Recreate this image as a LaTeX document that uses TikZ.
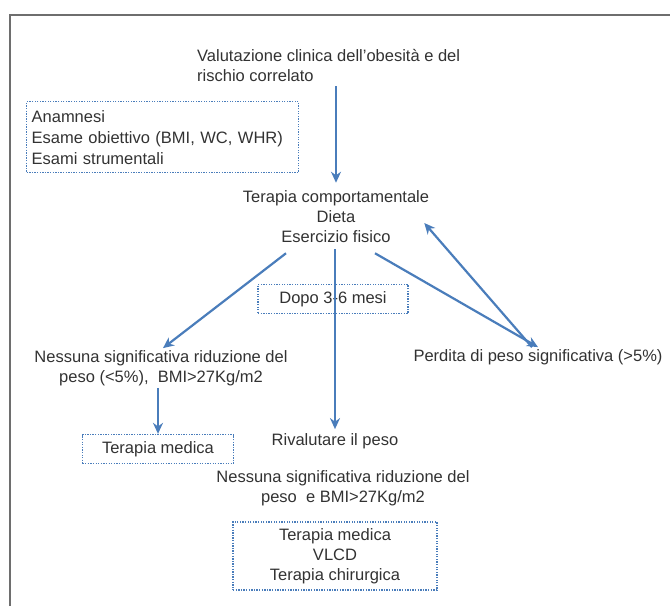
\documentclass[tikz,border=0pt]{standalone}
\usepackage{fontspec}
\setmainfont{Liberation Sans}
\usetikzlibrary{arrows.meta}
\definecolor{flowblue}{RGB}{74,125,187}
\definecolor{textgrey}{RGB}{50,50,50}
\definecolor{framegrey}{RGB}{110,110,110}
\tikzset{
    label/.style={text=textgrey, font=\fontsize{16.5}{20}\selectfont, align=center, inner sep=2pt},
    dotbox/.style={label, draw=flowblue, line width=1.3pt, dash pattern=on 1.3pt off 1.3pt},
    flow/.style={draw=flowblue, line width=2.2pt, ->}
}

\begin{document}
\begin{tikzpicture}[x=1pt, y=-1pt, >={Stealth[length=11pt,width=10pt]}]
        \useasboundingbox (0,0) rectangle (670,606);

        % Outer frame (only top and left are visible)
        \draw[framegrey, line width=2pt] (10,606) -- (10,15) -- (670,15);

        % --- Assessment ---
        \node[label, align=left, anchor=west] (valut) at (195,66)
            {Valutazione clinica dell'obesità e del\\rischio correlato};
        \node[dotbox, align=left, anchor=north west, text width=262pt, inner sep=5pt, minimum height=71pt,
              font=\fontsize{16.5}{21}\selectfont] (anam) at (26,101)
            {Anamnesi\\Esame obiettivo (BMI, WC, WHR)\\Esami strumentali};

        % --- Behavioural therapy ---
        \node[label] (terapia) at (336,217) {Terapia comportamentale\\Dieta\\Esercizio fisico};
        \node[dotbox, minimum width=150pt, minimum height=29pt] (dopo) at (333,299) {Dopo 3-6 mesi};

        % --- Outcomes after 3-6 months ---
        \node[label] (noloss) at (161,368) {Nessuna significativa riduzione del\\peso (<5\%),~ BMI>27Kg/m2};
        \node[label] (loss) at (538,357) {Perdita di peso significativa (>5\%)};
        \node[dotbox, minimum width=151pt, minimum height=29pt] (medica) at (158,449) {Terapia medica};
        \node[label] (rival) at (335,441) {Rivalutare il peso};
        \node[label] (again) at (343,488) {Nessuna significativa riduzione del\\peso~ e BMI>27Kg/m2};
        \node[dotbox, minimum width=204pt, minimum height=68pt] (advanced) at (335,556)
            {Terapia medica\\VLCD\\Terapia chirurgica};

        % Arrows
        \draw[flow] ([yshift=-2pt]valut.south -| terapia.north) -- ([yshift=6pt]terapia.north);
        \draw[flow] ([shift={(-50pt,-8pt)}]terapia.south) -- ([xshift=2pt]noloss.north);
        \draw[flow] ([shift={(39pt,-8pt)}]terapia.south) -- (loss.north);
        \draw[flow] ([xshift=-6pt]loss.north) -- ([shift={(-7pt,-6pt)}]terapia.east);
        \draw[flow] ([yshift=-4pt]terapia.south -| rival.north) -- ([yshift=2pt]rival.north);
        \draw[flow] (noloss.south -| medica.north) -- (medica.north);
\end{tikzpicture}
\end{document}
